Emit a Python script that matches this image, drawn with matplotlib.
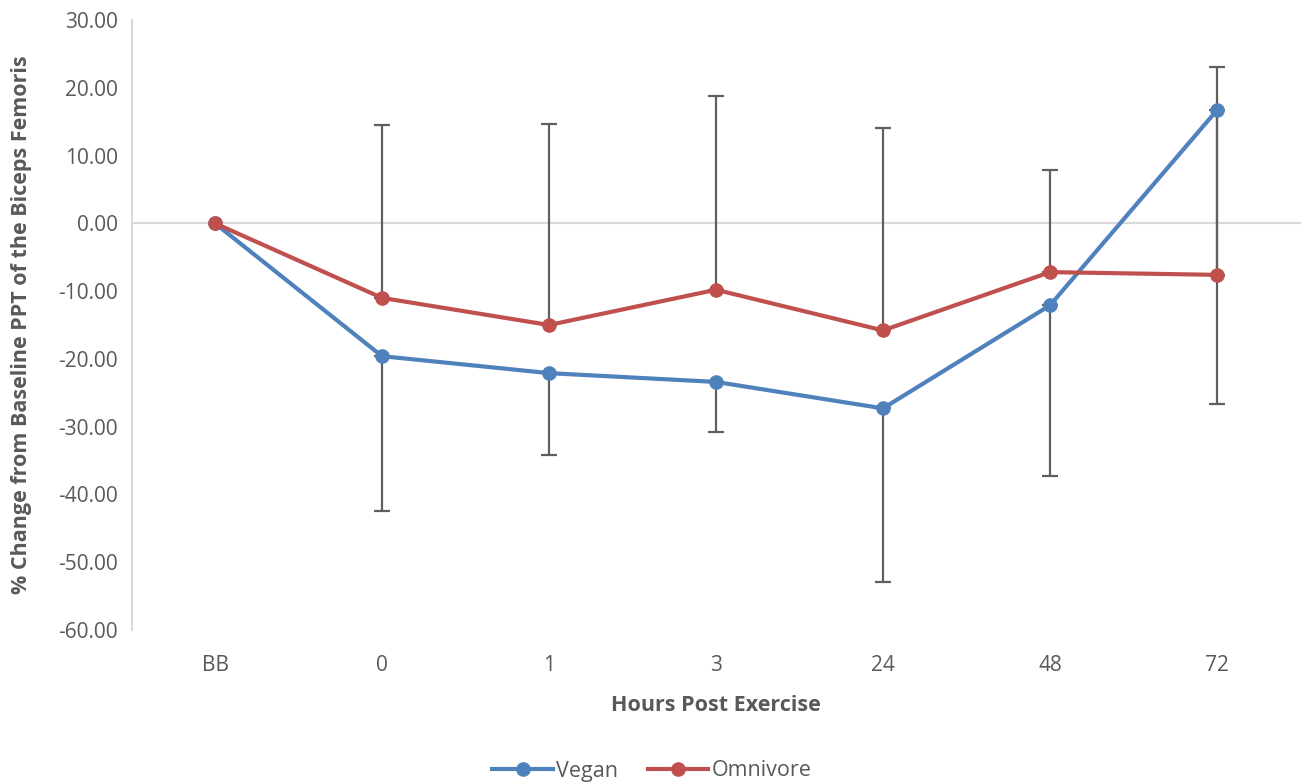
import matplotlib
matplotlib.use("Agg")
import matplotlib.pyplot as plt
import numpy as np

categories = ["BB", "0", "1", "3", "24", "48", "72"]
vegan = [0.0, -19.6, -22.1, -23.4, -27.3, -12.1, 16.7]
omnivore = [0.0, -11.0, -15.0, -9.8, -15.8, -7.2, -7.6]
# one-sided error bars: vegan downward, omnivore upward
vegan_err_low = [0.0, 22.8, 12.1, 7.4, 25.6, 25.2, 43.4]
omni_err_up = [0.0, 25.5, 29.7, 28.6, 29.9, 15.1, 30.7]

plt.rcParams['font.family'] = ['Open Sans', 'DejaVu Sans']

fig = plt.figure(figsize=(13.04, 7.84), dpi=100)
ax = fig.add_axes([131.5/1304, 1-630/784, 1169/1304, 610/784])

x = np.arange(len(categories))
blue = "#4F81BD"
red = "#C0504D"
errc = "#5F5F5F"

ax.axhline(0, color="#D9D9D9", lw=1.5, zorder=1)

vx = x[1:]
ax.errorbar(vx, np.array(vegan)[1:], yerr=[np.array(vegan_err_low)[1:], np.zeros(len(vx))],
            fmt='none', ecolor=errc, elinewidth=1.6, capsize=6, capthick=1.6, zorder=2)
ax.errorbar(vx, np.array(omnivore)[1:], yerr=[np.zeros(len(vx)), np.array(omni_err_up)[1:]],
            fmt='none', ecolor=errc, elinewidth=1.6, capsize=6, capthick=1.6, zorder=2)

ax.plot(x, vegan, color=blue, lw=3, marker='o', ms=9.5, label="Vegan", zorder=3)
ax.plot(x, omnivore, color=red, lw=3, marker='o', ms=9.5, label="Omnivore", zorder=4)

ax.set_xlim(-0.5, len(categories) - 0.5)
ax.set_ylim(-60, 30)
ax.set_yticks(np.arange(-60, 31, 10))
ax.set_yticklabels([f"{v:.2f}" for v in np.arange(-60, 31, 10)])
ax.set_xticks(x)
ax.set_xticklabels(categories)

for s in ["top", "right", "bottom"]:
    ax.spines[s].set_visible(False)
ax.spines["left"].set_color("#D9D9D9")
ax.spines["left"].set_linewidth(1.5)
ax.tick_params(axis='both', length=0, labelsize=15, labelcolor="#595959")
ax.tick_params(axis='y', pad=10)
ax.tick_params(axis='x', pad=18)

ax.set_xlabel("Hours Post Exercise", fontsize=15.5, fontweight='bold', color="#595959", labelpad=14)
ax.set_ylabel("% Change from Baseline PPT of the Biceps Femoris", fontsize=15.5,
              fontweight='bold', color="#595959")
ax.yaxis.set_label_coords(-0.085, 0.5)

leg = fig.legend(loc='center', bbox_to_anchor=(0.5, 1 - 771/784), ncol=2, frameon=False,
                 fontsize=15.5, handlelength=2.8, columnspacing=1.4, handletextpad=0.15)
for t in leg.get_texts():
    t.set_color("#595959")

fig.savefig("out.png", dpi=100)
